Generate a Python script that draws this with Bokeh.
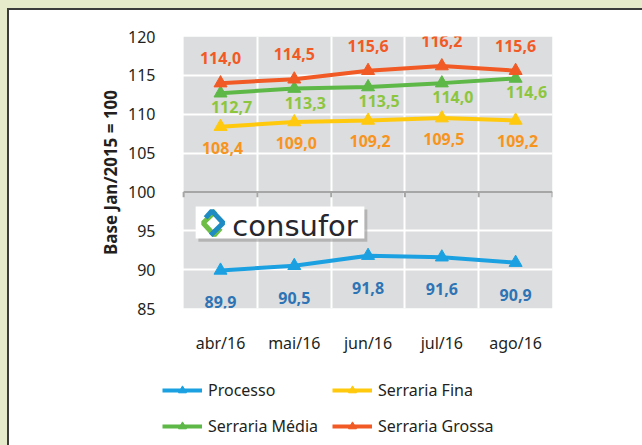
from bokeh.plotting import figure
from bokeh.layouts import column
from bokeh.models import (FixedTicker, Legend, LegendItem, GlobalInlineStyleSheet)
from bokeh.core.properties import value
from bokeh.embed import file_html
from bokeh.resources import INLINE

# ---- data -------------------------------------------------------------
months = ["abr/16", "mai/16", "jun/16", "jul/16", "ago/16"]
processo = [89.9, 90.5, 91.8, 91.6, 90.9]
serraria_fina = [108.4, 109.0, 109.2, 109.5, 109.2]
serraria_media = [112.7, 113.3, 113.5, 114.0, 114.6]
serraria_grossa = [114.0, 114.5, 115.6, 116.2, 115.6]
y_ticks = [85, 90, 95, 100, 105, 110, 115, 120]
series_names = ["Processo", "Serraria Fina", "Serraria Média", "Serraria Grossa"]
legend_order = ["Processo", "Serraria Média", "Serraria Fina", "Serraria Grossa"]
y_title = "Base Jan/2015 = 100"
logo_text = "consufor"

FONT = "Noto Sans"
xpos = [i + 0.5 for i in range(len(months))]
bounds = list(range(len(months) + 1))
Y0, Y1 = y_ticks[0], y_ticks[-1]
X0, X1 = bounds[0], bounds[-1]

p = figure(width=633, height=364,
           x_range=(-0.3, X1), y_range=(Y0, Y1),
           output_backend="svg", toolbar_location=None,
           min_border_left=152, min_border_right=90,
           min_border_top=26, min_border_bottom=66,
           background_fill_color="white", border_fill_color="white",
           outline_line_color=None)

# plot-area background (grey) under the white grid
p.quad(left=X0, right=X1, bottom=Y0, top=Y1, fill_color="#DCDDDE",
       line_color=None, level="underlay")

# grid
p.xgrid.ticker = FixedTicker(ticks=bounds[1:-1])
p.ygrid.ticker = FixedTicker(ticks=[t for t in y_ticks if t not in (85, 100, 120)])
for g in (p.xgrid, p.ygrid):
    g.grid_line_color = "white"
    g.grid_line_width = 2

# axes
p.yaxis.ticker = FixedTicker(ticks=y_ticks)
p.yaxis.axis_line_color = None
p.yaxis.major_tick_line_color = None
p.yaxis.minor_tick_line_color = None
p.yaxis.major_label_text_font = FONT
p.yaxis.major_label_text_font_size = "16px"
p.yaxis.major_label_text_color = "#231F20"
p.yaxis.major_label_standoff = 0
p.yaxis.axis_label = y_title
p.yaxis.axis_label_text_font = FONT
p.yaxis.axis_label_text_font_size = "17px"
p.yaxis.axis_label_text_font_style = "bold"
p.yaxis.axis_label_text_color = "#231F20"
p.yaxis.axis_label_standoff = 3

p.xaxis.ticker = FixedTicker(ticks=xpos)
p.xaxis.major_label_overrides = {x: m for x, m in zip(xpos, months)}
p.xaxis.axis_line_color = None
p.xaxis.major_tick_line_color = None
p.xaxis.minor_tick_line_color = None
p.xaxis.major_label_text_font = FONT
p.xaxis.major_label_text_font_size = "16px"
p.xaxis.major_label_text_color = "#231F20"
p.xaxis.major_label_standoff = 17

# category axis crossing at 100
p.segment(x0=[X0], x1=[X1], y0=[100], y1=[100], line_color="#A6A6A6", line_width=2)
p.segment(x0=bounds, x1=bounds, y0=[100] * len(bounds), y1=[99.3] * len(bounds),
          line_color="#A6A6A6", line_width=2)

# logo box
p.quad(left=0.2, right=2.49, top=97.73, bottom=93.6, fill_color="#9A9A9A",
       fill_alpha=0.6, line_color=None)
p.quad(left=0.163, right=2.45, top=98.13, bottom=94.0, fill_color="white", line_color=None)
cx, cy, hx, hy = 0.40, 96.0, 0.17, 1.65
p.line(x=[cx + 0.2 * hx, cx - 0.8 * hx, cx + 0.1 * hx, cx + 0.6 * hx],
       y=[cy + 0.95 * hy, cy, cy - 0.95 * hy, cy - 0.4 * hy],
       line_color="#6DBE45", line_width=5)
p.line(x=[cx - 0.2 * hx, cx + 0.8 * hx, cx - 0.1 * hx, cx - 0.6 * hx],
       y=[cy - 0.95 * hy, cy, cy + 0.95 * hy, cy + 0.4 * hy],
       line_color="#1E8BC3", line_width=5)
p.text(x=[0.66], y=[95.6], text=[logo_text], text_font=value("DejaVu Sans"),
       text_font_size="29px", text_color="#26262E", text_baseline="alphabetic",
       text_align="left")

# series
line_colors = ["#1BA1E2", "#FFC90E", "#5DB847", "#F15A24"]
label_colors = ["#2E74B5", "#F7941E", "#8CC63E", "#F15A24"]
series_vals = [processo, serraria_fina, serraria_media, serraria_grossa]
label_offsets = [(0, 32), (2, 21), (11, 14), (0, -25)]

# legend figure (holds only the legend)
pl = figure(width=633, height=71, x_range=(0, 1), y_range=(0, 1),
            output_backend="svg", toolbar_location=None,
            x_axis_type=None, y_axis_type=None,
            min_border_left=152, min_border_right=90, min_border_top=0, min_border_bottom=0,
            background_fill_color="white", border_fill_color="white",
            outline_line_color=None)
pl.xgrid.visible = False
pl.ygrid.visible = False

items = {}
for name, vals, lc, tc, (dx, dy) in zip(series_names, series_vals, line_colors,
                                         label_colors, label_offsets):
    p.line(x=xpos, y=vals, line_color=lc, line_width=4)
    p.scatter(x=xpos, y=vals, marker="triangle", size=13, fill_color=lc,
              line_color=lc)
    p.text(x=xpos, y=vals, text=[f"{v:.1f}".replace(".", ",") for v in vals],
           x_offset=dx, y_offset=dy, text_align="center", text_baseline="middle",
           text_font=value(FONT), text_font_size="16px", text_font_style="bold",
           text_color=tc)
    # legend proxies (kept outside the visible range of the legend panel)
    lr = pl.line(x=[-5, -4], y=[-5, -5], line_color=lc, line_width=4)
    sr = pl.scatter(x=[-5], y=[-5], marker="triangle", size=13, fill_color=lc,
                    line_color=lc)
    items[name] = LegendItem(label=name, renderers=[lr, sr])

legend = Legend(items=[items[n] for n in legend_order], ncols=2, location=(1, 8),
                label_text_font=FONT, label_text_font_size="16px",
                label_text_color="#231F20", glyph_width=40, glyph_height=20,
                label_height=20, spacing=14, padding=0, margin=0,
                border_line_color=None, background_fill_alpha=0,
                label_standoff=6)
pl.add_layout(legend, "center")

layout = column(p, pl, spacing=0)
layout.styles = {"border-top": "2px solid #3C3C3C", "border-left": "2px solid #3C3C3C",
                 "background": "white"}
layout.stylesheets = [GlobalInlineStyleSheet(
    css="html,body{overflow:hidden;} body{background:#E6EBCB; padding:8px 0 0 7px !important;}")]

open("out.html", "w").write(file_html(layout, INLINE))
